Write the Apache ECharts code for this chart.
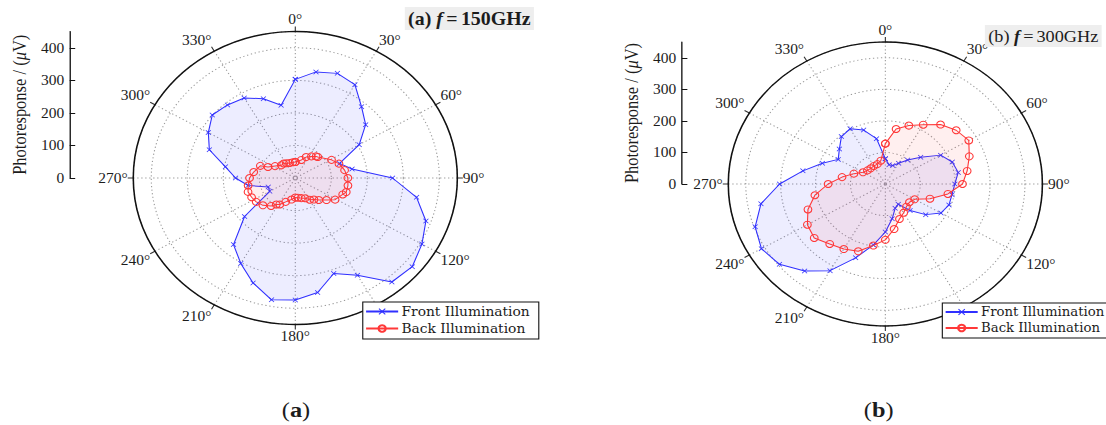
<!DOCTYPE html>
<html><head><meta charset="utf-8">
<script src="https://cdn.jsdelivr.net/npm/echarts@6/dist/echarts.min.js"></script>
<style>
html,body{margin:0;padding:0;background:#fff;overflow:hidden;width:1106px;height:425px}
#wrap{width:1000px;height:425px;transform:scaleX(1.106);transform-origin:0 0}
</style></head><body><div id="wrap"></div>
<script>
// ---- data ----
// 150° is hidden behind the legend in the reference, so it carries no label
const angleTickLabels = [0,30,60,90,120,180,210,240,270,300,330];
const radialTicks = [0,100,200,300,400];
const seriesNames = ['Front Illumination','Back Illumination'];

const frontA_angle = [0,10,20,30,40,50,60,70,80,90,100,110,120,130,140,150,160,170,180,190,200,210,220,230,240,250,260,270,280,290,300,310,320,330,340,350,360];
const frontA_r     = [303,331,342,331,286,255,205,131,160,270,342,386,406,424,417,345,312,357,375,380,343,303,267,184,82,80,133,166,197,254,279,301,293,284,259,227,303];

const backA_angle  = [0,17,25,34,41,44,61,70,80,90,99,107,111,121,128,136,142,149,156,165,173,180,189,200,208,213,218,227,236,244,252,260,270,279,291,294,303,315,324,331,341,352,360];
const backA_r      = [49,58,71,80,88,90,115,129,139,146,148,148,141,129,110,94,84,78,68,64,61,60,67,78,92,97,109,123,131,135,138,133,127,117,104,83,67,55,55,52,49,49,49];

const frontB_angle = [0,10,20,30,40,50,60,70,80,90,100,110,120,130,140,150,160,170,180,190,200,210,220,230,240,250,260,270,280,290,300,310,320,330,340,350,360];
const frontB_r     = [80,62,62,76,99,132,183,204,212,199,194,194,184,151,110,74,82,112,152,196,249,317,360,396,410,397,362,303,240,192,156,172,196,202,182,146,80];

const backB_angle  = [0,10,20,30,40,50,60,70,80,90,100,110,120,130,140,150,160,170,180,190,200,210,220,230,240,250,260,270,280,290,300,310,320,330,340,350,360];
const backB_r      = [128,177,197,217,246,265,276,256,238,221,182,136,97,90,94,105,118,145,177,198,227,238,248,266,258,236,205,164,126,96,74,67,65,66,67,75,128];

// ---- chart ----
const FONT = 'Liberation Serif';
const LFONT = 'DejaVu Serif';
const TXT = '#1c1c1c';
const BLUE = '#3030ff', RED = '#ff3838';
const xMark = 'path://M1,0 L5,4 L9,0 L10,1 L6,5 L10,9 L9,10 L5,6 L1,10 L0,9 L4,5 L0,1 Z';
const pairs = (ang, r) => ang.map((a, i) => [r[i], a]);

const polars = [{center:[267,178], radius:146.5}, {center:[800.5,184], radius:142}];

function angleAxis(i){
  return {polarIndex:i, type:'value', min:0, max:360, interval:30, startAngle:90, clockwise:true,
    axisLine:{lineStyle:{color:'#111', width:1.4}},
    axisTick:{show:true, length:5, lineStyle:{color:'#333'}},
    axisLabel:{formatter:v => angleTickLabels.includes(v) ? v + '°' : '', fontFamily:FONT, fontSize:14, color:TXT, margin:5},
    splitLine:{show:true, lineStyle:{color:'#9a9a9a', type:[1.2,2.4], width:1}}};
}
function radiusAxis(i){
  return {polarIndex:i, type:'value', min:0, max:450, interval:100,
    axisLine:{show:false}, axisTick:{show:false}, axisLabel:{show:false},
    splitLine:{show:true, lineStyle:{color:'#9a9a9a', type:[1.2,2.4], width:1}}};
}
function sideAxis(i){
  return {gridIndex:i, type:'value', min:0, max:450, interval:100,
    axisLine:{show:true, lineStyle:{color:'#111', width:1.2}},
    axisTick:{show:true, inside:true, length:5, customValues:radialTicks, lineStyle:{color:'#111'}},
    axisLabel:{customValues:radialTicks, formatter:v => v > 400 ? '' : String(v), fontFamily:FONT, fontSize:14, color:TXT, margin:5},
    splitLine:{show:false},
    name:'{n|Photoresponse / (}{i|μ}{n|V)}', nameLocation:'middle', nameRotate:90, nameGap:36,
    nameTextStyle:{rich:{n:{fontFamily:FONT, fontSize:16.5, color:TXT}, i:{fontFamily:FONT, fontSize:16.5, fontStyle:'italic', color:TXT}}}};
}
function front(i, ang, r){
  return {name:seriesNames[0], type:'line', coordinateSystem:'polar', polarIndex:i, data:pairs(ang, r),
    symbol:xMark, symbolSize:5, showAllSymbol:true, z:2,
    lineStyle:{color:BLUE, width:1}, itemStyle:{color:BLUE},
    areaStyle:{color:'rgba(60,60,255,0.13)'}};
}
function back(i, ang, r){
  return {name:seriesNames[1], type:'line', coordinateSystem:'polar', polarIndex:i, data:pairs(ang, r),
    symbol:'circle', symbolSize:7, showAllSymbol:true, z:3,
    lineStyle:{color:RED, width:1}, itemStyle:{color:'rgba(255,255,255,0)', borderColor:RED, borderWidth:1},
    areaStyle:{color:'rgba(255,60,60,0.12)'}};
}
function legend(left, top, fs){
  return {orient:'vertical', left:left, top:top, data:seriesNames, backgroundColor:'#fff',
    borderColor:'#111', borderWidth:1, borderRadius:0, padding:[3,8,4,2], itemGap:4,
    itemWidth:29, itemHeight:8, textStyle:{fontFamily:LFONT, fontSize:fs, color:TXT, padding:[0,0,0,-2]}};
}
const titleRich = (bold, size) => ({
  n:{fontFamily:FONT, fontSize:size, fontWeight:bold?'bold':'normal', color:TXT},
  i:{fontFamily:FONT, fontSize:size, fontWeight:'bold', fontStyle:'italic', color:TXT}});
const capRich = {n:{fontFamily:FONT, fontSize:22, fill:TXT}, b:{fontFamily:FONT, fontSize:22, fontWeight:'bold', fill:TXT}};
const SP = '\u2006';

const option = {
  animation:false,
  backgroundColor:'#fff',
  polar:polars,
  angleAxis:[angleAxis(0), angleAxis(1)],
  radiusAxis:[radiusAxis(0), radiusAxis(1)],
  grid:[{left:63, top:31.5, width:1, height:146.5}, {left:616.5, top:42, width:1, height:142}],
  xAxis:[{gridIndex:0, show:false, type:'value'}, {gridIndex:1, show:false, type:'value'}],
  yAxis:[sideAxis(0), sideAxis(1)],
  title:[
    {text:'{n|(a) }{i|f}{n|' + SP + '=' + SP + '150GHz}', left:366, top:7, backgroundColor:'#eeeeee', padding:[3,3,2,3], textStyle:{rich:titleRich(true, 18)}},
    {text:'{n|(b) }{i|f}{n|' + SP + '=' + SP + '300GHz}', left:890.5, top:25, backgroundColor:'#eeeeee', padding:[3,3,2,3], textStyle:{rich:titleRich(false, 16.5)}}
  ],
  legend:[legend(328, 302, 12.5), legend(852, 303, 12)],
  graphic:[
    {type:'text', x:267.6, y:409, style:{text:'{n|(}{b|a}{n|)}', rich:capRich, align:'center', verticalAlign:'middle'}},
    {type:'text', x:794.5, y:409, style:{text:'{n|(}{b|b}{n|)}', rich:capRich, align:'center', verticalAlign:'middle'}}
  ],
  series:[
    front(0, frontA_angle, frontA_r), back(0, backA_angle, backA_r),
    front(1, frontB_angle, frontB_r), back(1, backB_angle, backB_r)
  ]
};
const chart = echarts.init(document.getElementById('wrap'), null, {renderer:'svg', width:1000, height:425});
chart.setOption(option);
</script>
</body></html>
